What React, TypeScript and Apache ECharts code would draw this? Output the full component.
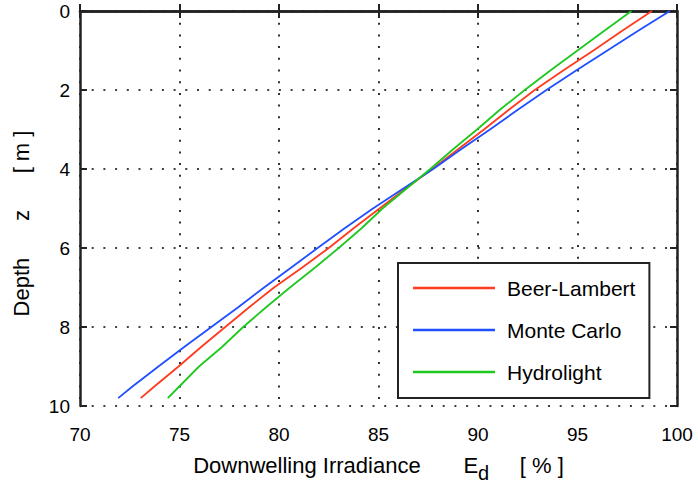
import React, { useEffect, useRef } from "react";
import * as echarts from "echarts";

const depth = [0, 0.5, 1, 1.5, 2, 2.5, 3, 3.5, 4, 4.5, 5, 5.5, 6, 6.5, 7, 7.5, 8, 8.5, 9, 9.5, 9.8];
const beerLambert = [98.74, 97.25, 95.8, 94.3, 92.85, 91.55, 90.3, 89.0, 87.7, 86.35, 85.05, 83.75, 82.5, 81.15, 79.75, 78.5, 77.3, 76.1, 74.95, 73.75, 73.05];
const monteCarlo = [99.64, 98.05, 96.5, 94.95, 93.44, 92.0, 90.6, 89.15, 87.75, 86.23, 84.72, 83.3, 81.94, 80.6, 79.25, 77.95, 76.6, 75.25, 73.94, 72.65, 71.92];
const hydrolight = [97.71, 96.35, 95.0, 93.65, 92.35, 91.1, 89.95, 88.75, 87.6, 86.4, 85.2, 84.15, 83.0, 81.8, 80.55, 79.35, 78.2, 77.15, 75.98, 75.0, 74.41];
const seriesNames = ["Beer-Lambert", "Monte Carlo", "Hydrolight"];
const seriesColors = ["#ff3b1f", "#1f4fff", "#1fc81f"];
const xTicks = { min: 70, max: 100, interval: 5 };
const yTicks = { min: 0, max: 10, interval: 2 };

const FONT = "'Liberation Sans', Arial, sans-serif";

export default function App() {
  const ref = useRef<HTMLDivElement>(null);
  useEffect(() => {
    if (!ref.current) return;
    const chart = echarts.init(ref.current, undefined, { renderer: "svg" });
    const axisLine = { show: true, lineStyle: { color: "#222", width: 2.5 } };
    const axisTick = { show: true, inside: true, length: 7, lineStyle: { color: "#222", width: 2 } };
    const splitLine = { show: true, lineStyle: { color: "#000", width: 1.6, type: [2, 9.7] as any } };
    const allSeries = [beerLambert, monteCarlo, hydrolight];
    chart.setOption({
      animation: false,
      backgroundColor: "#fff",
      textStyle: { fontFamily: FONT, color: "#000" },
      grid: { left: 80, top: 11, width: 597, height: 398, containLabel: false },
      legend: {
        show: true,
        data: seriesNames,
        orient: "vertical",
        left: 398,
        top: 263,
        icon: "rect",
        itemWidth: 82,
        itemHeight: 2.5,
        itemGap: 20,
        padding: [14, 14, 15, 15],
        borderColor: "#222",
        borderWidth: 2,
        backgroundColor: "#fff",
        textStyle: { fontFamily: FONT, fontSize: 21, color: "#000", lineHeight: 22, padding: [0, 0, 0, 7] },
      },
      xAxis: [
        {
          type: "value",
          position: "bottom",
          ...xTicks,
          axisLine,
          axisTick,
          splitLine,
          axisLabel: { fontFamily: FONT, fontSize: 19, color: "#000", margin: 19 },
          name: "{n|Downwelling Irradiance       E}{s|d}{n|     [ % ]}",
          nameLocation: "middle",
          nameGap: 41,
          nameTextStyle: {
            fontFamily: FONT,
            rich: {
              n: { fontFamily: FONT, fontSize: 22, color: "#000", lineHeight: 36, verticalAlign: "middle" },
              s: { fontFamily: FONT, fontSize: 20, color: "#000", lineHeight: 36, verticalAlign: "bottom" },
            },
          },
        },
        {
          type: "value",
          position: "top",
          ...xTicks,
          axisLine,
          axisTick,
          splitLine: { show: false },
          axisLabel: { show: false },
        },
      ],
      yAxis: [
        {
          type: "value",
          position: "left",
          inverse: true,
          ...yTicks,
          axisLine,
          axisTick,
          splitLine,
          axisLabel: { fontFamily: FONT, fontSize: 19, color: "#000", margin: 10 },
          name: "Depth      z      [ m ]",
          nameLocation: "middle",
          nameGap: 48,
          nameTextStyle: { fontFamily: FONT, fontSize: 22, color: "#000", padding: [0, 30, 0, 0] },
        },
        {
          type: "value",
          position: "right",
          inverse: true,
          ...yTicks,
          axisLine,
          axisTick,
          splitLine: { show: false },
          axisLabel: { show: false },
        },
      ],
      series: seriesNames.map((name, k) => ({
        name,
        type: "line",
        xAxisIndex: 0,
        yAxisIndex: 0,
        showSymbol: false,
        symbol: "none",
        color: seriesColors[k],
        lineStyle: { color: seriesColors[k], width: 1.8 },
        data: depth.map((z, i) => [allSeries[k][i], z]),
      })),
    });
    return () => chart.dispose();
  }, []);
  return (
    <div
      ref={ref}
      style={{ position: "fixed", left: 0, top: 0, width: 698, height: 488, background: "#fff" }}
    />
  );
}
